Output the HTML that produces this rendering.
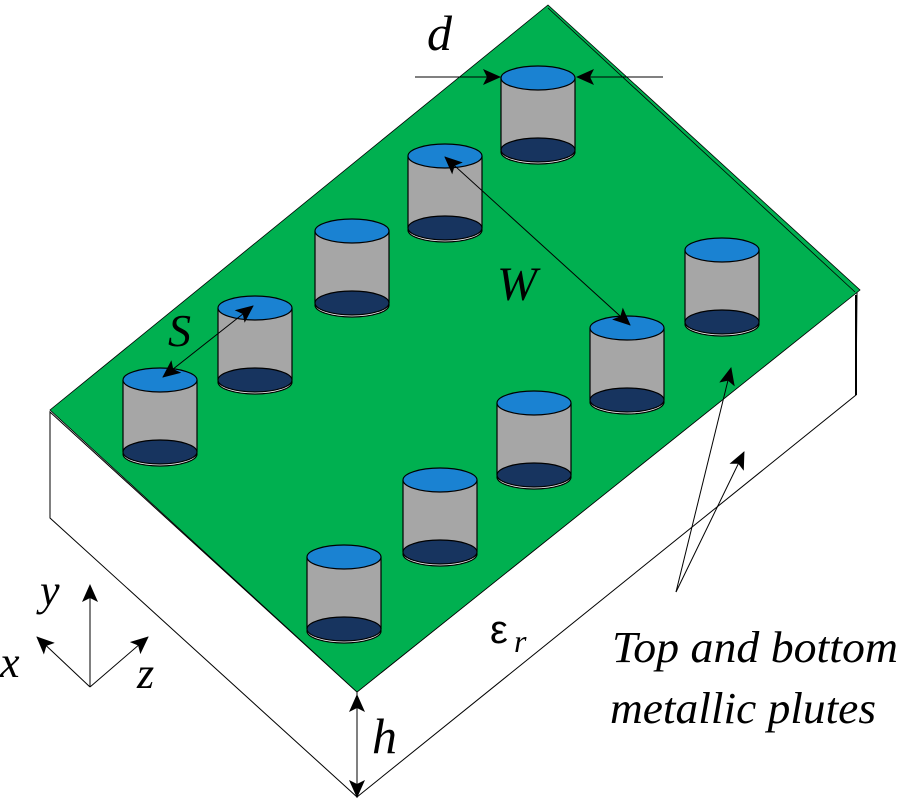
<!DOCTYPE html>
<html><head><meta charset="utf-8"><style>html,body{margin:0;padding:0;background:#fff}svg{display:block}
.t{font-family:"Liberation Serif","DejaVu Serif",serif;font-style:italic;fill:#000}
</style></head>
<body>
<svg width="900" height="800" viewBox="0 0 900 800" xmlns="http://www.w3.org/2000/svg">
<defs>
<marker id="b" markerWidth="18" markerHeight="16" refX="17" refY="8" orient="auto" markerUnits="userSpaceOnUse" viewBox="0 0 18 16"><path d="M0,0 L18,8 L0,16 L4,8 z" fill="#000"/></marker>
<marker id="bs" markerWidth="18" markerHeight="16" refX="1" refY="8" orient="auto" markerUnits="userSpaceOnUse" viewBox="0 0 18 16"><path d="M18,0 L0,8 L18,16 L14,8 z" fill="#000"/></marker>
<g id="cyl" stroke="#000" stroke-width="1.2">
<ellipse cx="0" cy="74" rx="37" ry="12" fill="#fff"/>
<rect x="-37" y="0" width="74" height="72" fill="#a6a6a6" stroke="none"/>
<line x1="-37" y1="0" x2="-37" y2="72"/><line x1="37" y1="0" x2="37" y2="72"/>
<ellipse cx="0" cy="72" rx="37" ry="12" fill="#17345f"/>
<ellipse cx="0" cy="0" rx="37" ry="12" fill="#1a82d2"/>
</g>
</defs>
<polygon points="50,412 357,692 357,797 50,518" fill="#fff" stroke="#000" stroke-width="1"/>
<polygon points="357,692 857,292 856,395 357,797" fill="#fff" stroke="#000" stroke-width="1"/>
<line x1="856" y1="295" x2="856" y2="395" stroke="#000" stroke-width="2"/>
<polygon points="548,5 860,290 357,692 50,410" fill="#00b050" stroke="#000" stroke-width="0.8"/>
<line x1="548" y1="8" x2="855" y2="292" stroke="#000" stroke-width="0.8"/>
<use href="#cyl" x="538" y="78"/>
<use href="#cyl" x="445" y="156"/>
<use href="#cyl" x="352" y="231"/>
<use href="#cyl" x="255" y="308"/>
<use href="#cyl" x="160" y="380"/>
<use href="#cyl" x="722" y="250"/>
<use href="#cyl" x="627" y="328"/>
<use href="#cyl" x="534" y="403"/>
<use href="#cyl" x="440" y="480"/>
<use href="#cyl" x="344" y="557"/>
<g stroke="#000" stroke-width="1" fill="none">
<line x1="415" y1="77" x2="500" y2="77" marker-end="url(#b)"/>
<line x1="663" y1="77" x2="577" y2="77" marker-end="url(#b)"/>
<line x1="445" y1="157" x2="630" y2="325" marker-start="url(#bs)" marker-end="url(#b)"/>
<line x1="163" y1="377" x2="253" y2="306" marker-start="url(#bs)" marker-end="url(#b)"/>
<line x1="676" y1="592" x2="731" y2="368" marker-end="url(#b)"/>
<line x1="676" y1="592" x2="744" y2="452" marker-end="url(#b)"/>
<line x1="357" y1="695" x2="357" y2="797" marker-start="url(#bs)" marker-end="url(#b)"/>
<line x1="90" y1="687" x2="90" y2="585" marker-end="url(#b)"/>
<line x1="90" y1="687" x2="37" y2="637" marker-end="url(#b)"/>
<line x1="90" y1="687" x2="148" y2="637" marker-end="url(#b)"/>
</g>
<text class="t" x="427" y="50" font-size="50">d</text>
<text class="t" x="497" y="300" font-size="48">W</text>
<text class="t" x="168" y="346" font-size="46">S</text>
<text class="t" x="372" y="753" font-size="50">h</text>
<text class="t" x="40" y="605" font-size="44">y</text>
<text class="t" x="0" y="677" font-size="44">x</text>
<text class="t" x="137" y="688" font-size="44">z</text>
<text class="t" x="612" y="662" font-size="44" textLength="286" lengthAdjust="spacingAndGlyphs">Top and bottom</text>
<text class="t" x="610" y="723" font-size="44" textLength="266" lengthAdjust="spacingAndGlyphs">metallic plutes</text>
<text x="490" y="643" style="font-family:'Liberation Sans',sans-serif" font-size="40">ε</text>
<text class="t" x="514" y="652" font-size="32">r</text>
</svg>
</body></html>
